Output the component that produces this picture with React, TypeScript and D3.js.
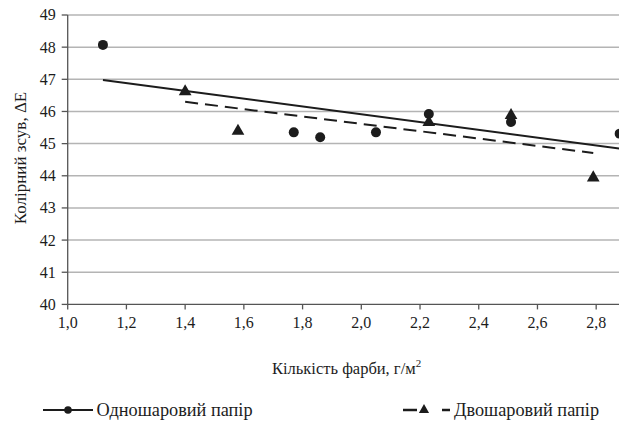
import React from 'react';
import * as d3 from 'd3';

const singleX = [1.12, 1.77, 1.86, 2.05, 2.23, 2.51, 2.88];
const singleY = [48.07, 45.35, 45.2, 45.35, 45.92, 45.67, 45.31];
const doubleX = [1.4, 1.58, 2.23, 2.51, 2.79];
const doubleY = [46.62, 45.39, 45.66, 45.88, 43.94];
const xTicks = [1.0, 1.2, 1.4, 1.6, 1.8, 2.0, 2.2, 2.4, 2.6, 2.8];
const yTicks = [40, 41, 42, 43, 44, 45, 46, 47, 48, 49];
const seriesNames = ['Одношаровий папір', 'Двошаровий папір'];

const W = 619;
const H = 425;
const FONT = "'Liberation Serif', 'Times New Roman', Tinos";
const INK = '#1c1c1c';
const AXIS = '#555';

// least squares line over the points of one series
function fit(xs: number[], ys: number[]) {
  const mx = d3.mean(xs) as number;
  const my = d3.mean(ys) as number;
  let sxy = 0;
  let sxx = 0;
  xs.forEach((x, i) => {
    sxy += (x - mx) * (ys[i] - my);
    sxx += (x - mx) * (x - mx);
  });
  const b = sxy / sxx;
  const [x0, x1] = d3.extent(xs) as [number, number];
  return [
    [x0, my + b * (x0 - mx)],
    [x1, my + b * (x1 - mx)],
  ] as [number, number][];
}

const x = d3.scaleLinear().domain([1.0, 3.0]).range([67.7, 654.9]);
const y = d3.scaleLinear().domain([40, 49]).range([304.4, 15]);
const fmt = (d: number) => d3.format('.1f')(d).replace('.', ',');
const line = d3
  .line<[number, number]>()
  .x((d) => x(d[0]))
  .y((d) => y(d[1]));
const tri = d3.symbol().type(d3.symbolTriangle).size(70)() as string;
const triSmall = d3.symbol().type(d3.symbolTriangle).size(45)() as string;

const textStyle = (size: number): React.CSSProperties => ({ fontFamily: FONT, fontSize: `${size}px` });

export default function App() {
  const y0 = y(40);
  const x0 = x(1.0);
  const ly = 410;
  return (
    <svg width={W} height={H} style={{ position: 'absolute', left: 0, top: 0, background: '#fff' }}>
      {yTicks.slice(1).map((t) => (
        <line key={t} x1={x0} x2={x(3.0)} y1={y(t)} y2={y(t)} stroke="#b4b4b4" strokeWidth={1.5} />
      ))}

      {/* x axis */}
      <line x1={x0} x2={x(3.0)} y1={y0} y2={y0} stroke={AXIS} strokeWidth={1.3} />
      {xTicks.map((t) => (
        <g key={t} transform={`translate(${x(t)},${y0})`}>
          <line y2={5} stroke={AXIS} strokeWidth={1.3} />
          <text y={24} textAnchor="middle" fill={INK} style={textStyle(16)}>
            {fmt(t)}
          </text>
        </g>
      ))}

      {/* y axis */}
      <line x1={x0} x2={x0} y1={y(40)} y2={y(49)} stroke={AXIS} strokeWidth={1.3} />
      {yTicks.map((t) => (
        <g key={t} transform={`translate(${x0},${y(t)})`}>
          <line x2={-6} stroke={AXIS} strokeWidth={1.3} />
          <text x={-12} dy="0.34em" textAnchor="end" fill={INK} style={textStyle(16)}>
            {t}
          </text>
        </g>
      ))}

      {/* trend lines */}
      <path d={line(fit(singleX, singleY)) as string} stroke={INK} strokeWidth={2} fill="none" />
      <path d={line(fit(doubleX, doubleY)) as string} stroke={INK} strokeWidth={2} strokeDasharray="13,7" fill="none" />

      {singleX.map((v, i) => (
        <circle key={`c${i}`} cx={x(v)} cy={y(singleY[i])} r={5} fill={INK} />
      ))}
      {doubleX.map((v, i) => (
        <path key={`t${i}`} d={tri} transform={`translate(${x(v)},${y(doubleY[i])})`} fill={INK} />
      ))}

      {/* axis titles */}
      <text x={272} y={373.5} fill={INK} style={textStyle(16.5)}>
        Кількість фарби, г/м
        <tspan dy={-7} style={{ fontSize: '11px' }}>
          2
        </tspan>
      </text>
      <text transform="translate(25.5,158) rotate(-90)" textAnchor="middle" fill={INK} style={textStyle(17)}>
        Колірний зсув, ΔЕ
      </text>

      {/* legend */}
      <line x1={43} x2={93} y1={ly} y2={ly} stroke={INK} strokeWidth={2} />
      <circle cx={68} cy={ly} r={3.8} fill={INK} />
      <text x={96.5} y={ly + 6} fill={INK} style={textStyle(18.3)}>
        {seriesNames[0]}
      </text>

      <line x1={403} x2={417} y1={ly} y2={ly} stroke={INK} strokeWidth={2.5} />
      <path d={triSmall} transform={`translate(424,${ly})`} fill={INK} />
      <line x1={442} x2={450} y1={ly} y2={ly} stroke={INK} strokeWidth={2.5} />
      <text x={454} y={ly + 6} fill={INK} style={textStyle(18.3)}>
        {seriesNames[1]}
      </text>
    </svg>
  );
}
